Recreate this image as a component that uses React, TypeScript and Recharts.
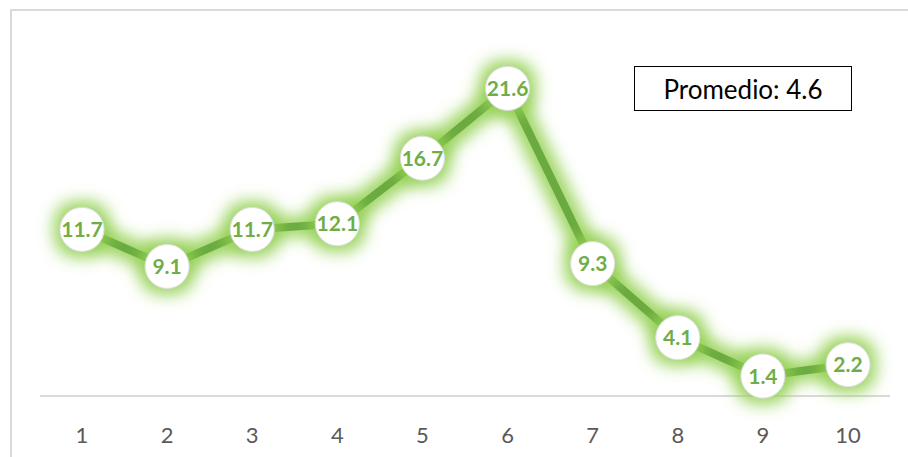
import { LineChart, Line, XAxis, YAxis, LabelList } from "recharts";

// Data
const categories = ["1", "2", "3", "4", "5", "6", "7", "8", "9", "10"];
const values = [11.7, 9.1, 11.7, 12.1, 16.7, 21.6, 9.3, 4.1, 1.4, 2.2];
const averageLabel = "Promedio: 4.6";

const data = categories.map((c, i) => ({ name: c, v: values[i] }));

const GREEN = "#6BAA41";
const LABEL = "#70AD47";
const GLOW = "#92D050";
const FONT = "Lato, 'Open Sans', sans-serif";

// White marker with thin soft border
function Marker(props: any) {
  const { cx, cy, index } = props;
  if (cx == null || cy == null) return null;
  return (
    <circle
      key={`dot-${index}`}
      cx={cx}
      cy={cy}
      r={22}
      fill="#ffffff"
      stroke="#dedede"
      strokeWidth={1}
    />
  );
}

export default function App() {
  return (
    <div
      style={{
        position: "absolute",
        left: 0,
        top: 0,
        width: 908,
        height: 457,
        overflow: "hidden",
        background: "#ffffff",
      }}
    >
      <style>{`.glow-line .recharts-line, .glow-line .recharts-line-dots { filter: url(#glow); }`}</style>
      <svg width={0} height={0} style={{ position: "absolute" }}>
        <defs>
          <filter
            id="glow"
            filterUnits="userSpaceOnUse"
            x={0}
            y={0}
            width={908}
            height={457}
          >
            <feMorphology in="SourceAlpha" operator="dilate" radius={6} result="d" />
            <feGaussianBlur in="d" stdDeviation={8} result="b" />
            <feFlood floodColor={GLOW} floodOpacity={0.9} />
            <feComposite in2="b" operator="in" result="g" />
            <feMerge>
              <feMergeNode in="g" />
              <feMergeNode in="SourceGraphic" />
            </feMerge>
          </filter>
        </defs>
      </svg>

      {/* outer chart frame */}
      <div
        style={{
          position: "absolute",
          left: 10,
          top: 9,
          width: 920,
          height: 470,
          border: "2px solid #d9d9d9",
          boxSizing: "border-box",
        }}
      />

      <div className="glow-line" style={{ position: "absolute", left: 0, top: 0 }}>
        <LineChart
          width={908}
          height={457}
          data={data}
          margin={{ top: 40, right: 18, bottom: 11, left: 40 }}
        >
          <XAxis
            dataKey="name"
            height={50}
            padding={{ left: 42, right: 42 }}
            axisLine={{ stroke: "#d9d9d9", strokeWidth: 2 }}
            tickLine={false}
            tickMargin={25}
            tick={{ fill: "#595959", fontSize: 22, fontFamily: FONT }}
          />
          <YAxis hide domain={[0, 25]} />
          <Line
            type="linear"
            dataKey="v"
            stroke={GREEN}
            strokeWidth={8}
            dot={<Marker />}
            activeDot={false}
            isAnimationActive={false}
          >
            <LabelList
              dataKey="v"
              position="center"
              fill={LABEL}
              fontSize={21}
              fontWeight="bold"
              fontFamily={FONT}
            />
          </Line>
        </LineChart>
      </div>

      {/* average box */}
      <div
        style={{
          position: "absolute",
          left: 634,
          top: 66,
          width: 218,
          height: 45,
          border: "1.5px solid #000000",
          boxSizing: "border-box",
          display: "flex",
          alignItems: "center",
          justifyContent: "center",
          fontFamily: FONT,
          fontSize: 26,
          color: "#000000",
          background: "#ffffff",
        }}
      >
        {averageLabel}
      </div>
    </div>
  );
}
